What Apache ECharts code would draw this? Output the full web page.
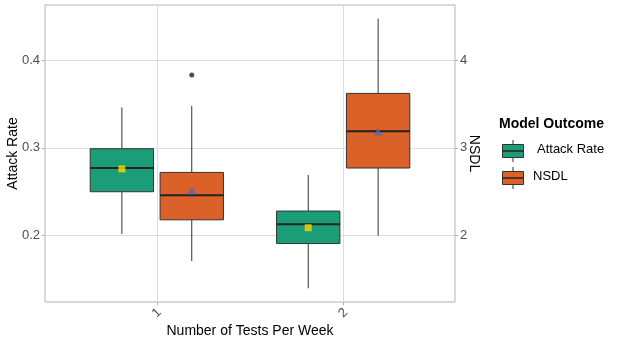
<!DOCTYPE html>
<html>
<head>
<meta charset="utf-8">
<script src="https://cdn.jsdelivr.net/npm/echarts@6/dist/echarts.min.js"></script>
<style>
  html, body { margin: 0; padding: 0; background: #fff; }
  #chart { width: 617px; height: 343px; }
</style>
</head>
<body>
<div id="chart"></div>
<script>
  // tests per week (x positions)
  const weeks = [1, 2];
  const seriesNames = ['Attack Rate', 'NSDL'];
  const colors = ['#1B9E77', '#DA6128'];

  // Attack Rate (left axis)
  const arLow = [0.202, 0.140];
  const arQ1 = [0.250, 0.191];
  const arMed = [0.277, 0.213];
  const arQ3 = [0.299, 0.228];
  const arHigh = [0.346, 0.269];
  const arMean = [0.276, 0.209];

  // NSDL (right axis)
  const nsLow = [1.71, 2.00];
  const nsQ1 = [2.18, 2.77];
  const nsMed = [2.46, 3.19];
  const nsQ3 = [2.72, 3.62];
  const nsHigh = [3.48, 4.47];
  const nsMean = [2.51, 3.18];
  const nsOutX = [1];
  const nsOutY = [3.83];

  const leftTicks = [0.2, 0.3, 0.4];
  const rightTicks = [2, 3, 4];

  const dodge = 0.1875;
  const boxHalf = 0.17;
  const font = 'Liberation Sans, Arial, sans-serif';

  function boxData(lo, q1, md, q3, hi) {
    return weeks.map((w, i) => [w, lo[i], q1[i], md[i], q3[i], hi[i]]);
  }

  function boxItem(offset, color) {
    return function (params, api) {
      const x = api.value(0) + offset;
      const lo = api.coord([x, api.value(1)]);
      const q1 = api.coord([x, api.value(2)]);
      const md = api.coord([x, api.value(3)]);
      const q3 = api.coord([x, api.value(4)]);
      const hi = api.coord([x, api.value(5)]);
      const hw = api.size([boxHalf, 0])[0];
      const cx = q1[0];
      const lineStyle = { stroke: '#333', lineWidth: 1 };
      return {
        type: 'group',
        children: [
          { type: 'line', shape: { x1: cx, y1: q3[1], x2: cx, y2: hi[1] }, style: lineStyle },
          { type: 'line', shape: { x1: cx, y1: q1[1], x2: cx, y2: lo[1] }, style: lineStyle },
          { type: 'rect', shape: { x: cx - hw, y: q3[1], width: hw * 2, height: q1[1] - q3[1] },
            style: { fill: color, stroke: '#333', lineWidth: 1 } },
          { type: 'line', shape: { x1: cx - hw, y1: md[1], x2: cx + hw, y2: md[1] },
            style: { stroke: '#222', lineWidth: 2 } }
        ]
      };
    };
  }

  const chart = echarts.init(document.getElementById('chart'), null, { renderer: 'canvas' });

  function legendKey(y, color) {
    return [
      { type: 'line', shape: { x1: 513, y1: y - 11, x2: 513, y2: y + 11 }, style: { stroke: '#333', lineWidth: 1 } },
      { type: 'rect', shape: { x: 502.5, y: y - 6.5, width: 21, height: 13 }, style: { fill: color, stroke: '#333', lineWidth: 1 } },
      { type: 'line', shape: { x1: 502.5, y1: y, x2: 523.5, y2: y }, style: { stroke: '#222', lineWidth: 1.5 } }
    ];
  }

  const option = {
    animation: false,
    grid: {
      left: 45, top: 5, width: 410, height: 297, containLabel: false, outerBoundsMode: 'none',
      show: true, borderColor: '#b3b3b3', borderWidth: 1, backgroundColor: '#fff'
    },
    xAxis: {
      type: 'value', min: 0.4, max: 2.6,
      name: 'Number of Tests Per Week', nameLocation: 'middle', nameGap: 22, nameMoveOverlap: false,
      nameTextStyle: { fontFamily: font, fontSize: 14, color: '#000' },
      axisLine: { show: false },
      axisTick: { show: true, length: 3, lineStyle: { color: '#b3b3b3' }, customValues: weeks },
      axisLabel: { customValues: weeks, rotate: 45, margin: 11, align: 'center', verticalAlign: 'middle',
        fontFamily: font, fontSize: 13, color: '#4d4d4d' },
      splitLine: { show: true, lineStyle: { color: '#dedede', width: 1 } }
    },
    yAxis: [
      {
        type: 'value', min: 0.1244, max: 0.4627, position: 'left',
        name: 'Attack Rate', nameLocation: 'middle', nameGap: 25, nameRotate: 90, nameMoveOverlap: false,
        nameTextStyle: { fontFamily: font, fontSize: 14, color: '#000' },
        axisLine: { show: false },
        axisTick: { show: true, length: 3, lineStyle: { color: '#b3b3b3' }, customValues: leftTicks },
        axisLabel: { customValues: leftTicks, margin: 5, fontFamily: font, fontSize: 13, color: '#4d4d4d',
          formatter: v => v.toFixed(1) },
        splitLine: { show: true, lineStyle: { color: '#dedede', width: 1 } }
      },
      {
        type: 'value', min: 1.244, max: 4.627, position: 'right',
        name: 'NSDL', nameLocation: 'middle', nameGap: 12, nameRotate: -90, nameMoveOverlap: false,
        nameTextStyle: { fontFamily: font, fontSize: 14, color: '#000' },
        axisLine: { show: false },
        axisTick: { show: true, length: 3, lineStyle: { color: '#b3b3b3' }, customValues: rightTicks },
        axisLabel: { customValues: rightTicks, margin: 5, fontFamily: font, fontSize: 13, color: '#4d4d4d' },
        splitLine: { show: false }
      }
    ],
    graphic: [
      { type: 'text', left: 499, top: 117, style: { text: 'Model Outcome', font: 'bold 14px ' + font, fill: '#000' } },
      ...legendKey(151, colors[0]),
      ...legendKey(178, colors[1]),
      { type: 'text', left: 537, top: 143, style: { text: seriesNames[0], font: '13px ' + font, fill: '#000' } },
      { type: 'text', left: 533, top: 170, style: { text: seriesNames[1], font: '13px ' + font, fill: '#000' } }
    ],
    series: [
      {
        name: seriesNames[0], type: 'custom', yAxisIndex: 0,
        renderItem: boxItem(-dodge, colors[0]),
        data: boxData(arLow, arQ1, arMed, arQ3, arHigh), z: 2
      },
      {
        name: seriesNames[1], type: 'custom', yAxisIndex: 1,
        renderItem: boxItem(dodge, colors[1]),
        data: boxData(nsLow, nsQ1, nsMed, nsQ3, nsHigh), z: 2
      },
      {
        type: 'scatter', yAxisIndex: 1, symbol: 'circle', symbolSize: 5,
        itemStyle: { color: '#222' },
        data: nsOutX.map((w, i) => [w + dodge, nsOutY[i]]), z: 3
      },
      {
        type: 'scatter', yAxisIndex: 0, symbol: 'rect', symbolSize: 7,
        itemStyle: { color: '#FFD700' },
        data: weeks.map((w, i) => [w - dodge, arMean[i]]), z: 4
      },
      {
        type: 'scatter', yAxisIndex: 1, symbol: 'triangle', symbolSize: [9, 7],
        itemStyle: { color: '#4A6CB8' },
        data: weeks.map((w, i) => [w + dodge, nsMean[i]]), z: 4
      }
    ]
  };

  chart.setOption(option);
</script>
</body>
</html>
